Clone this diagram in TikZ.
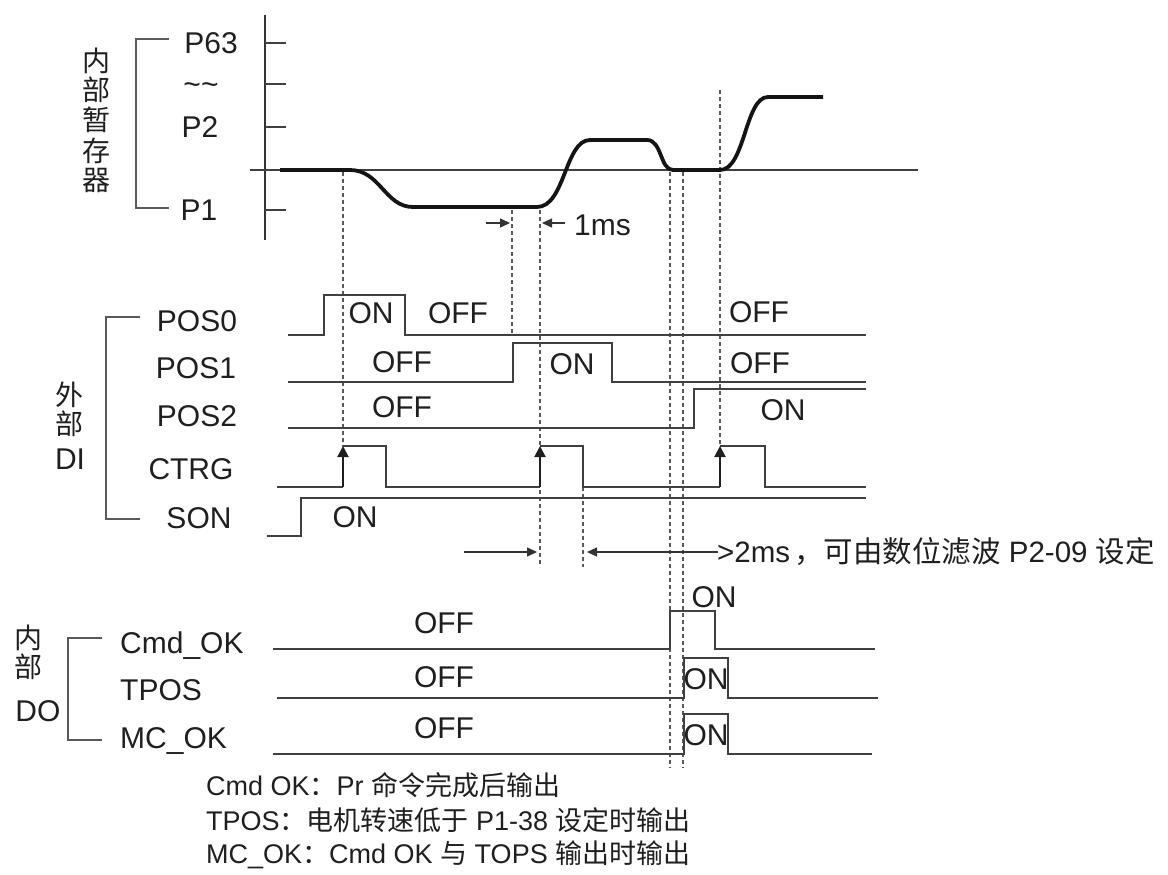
\documentclass[tikz,border=0pt]{standalone}
\usepackage{fontspec}
\setmainfont{Liberation Sans}
\newfontfamily\cjk{Noto Sans CJK SC}
\usetikzlibrary{arrows.meta}
\newcommand\zh[1]{{\cjk #1}}
\begin{document}
\begin{tikzpicture}[x=1pt,y=-1pt,
  sig/.style={line width=2pt,draw=black!75,line join=miter},
  wave/.style={line width=3.8pt,draw=black!92},
  dsh/.style={line width=1.1pt,draw=black!65,dash pattern=on 4pt off 3pt},
  brk/.style={line width=1.8pt,draw=black!65},
  axis/.style={line width=2.6pt,draw=black!80},
  lbl/.style={font=\fontsize{30}{32}\selectfont,text=black!88,inner sep=0pt,text height=21.5pt,text depth=0pt},
  txt/.style={font=\fontsize{27}{30}\selectfont,text=black!88,inner sep=0pt,anchor=west},
  zhl/.style={font=\cjk\fontsize{28}{30}\selectfont,text=black!88,inner sep=0pt},
  uparr/.style={line width=2pt,draw=black!88,-{Triangle[length=11pt,width=11pt]}},
  harr/.style={line width=1.3pt,draw=black!80,-{Triangle[length=10pt,width=9pt]}}
]
\useasboundingbox (0,0) rectangle (1168,875);

% ---------- top plot ----------
\draw[axis] (265,15) -- (265,240);
\draw[sig] (250,170) -- (918,170);
\foreach \yy in {43,84,127,210} \draw[sig] (265,\yy) -- (286,\yy);
\node[lbl] (p63) at (211,43) {P63};
\node[lbl] (tld) at (201,84) {\textasciitilde\textasciitilde};
\node[lbl] (p2) at (200,127) {P2};
\node[lbl] (p1) at (199,210) {P1};
\draw[brk] (169,39) -- (136,39) -- (136,208) -- (169,208);
\foreach \c/\yy [count=\i] in {内/61,部/90,暂/120,存/151,器/180}
  \node[zhl] (reg\i) at (96,\yy) {\c};

% dashed guides
\draw[dsh] (343,172) -- (343,447);
\draw[dsh] (512,210) -- (512,335);
\draw[dsh] (540,210) -- (540,567);
\draw[dsh] (583,487) -- (583,567);
\draw[dsh] (670,172) -- (670,768);
\draw[dsh] (683,172) -- (683,768);
\draw[dsh] (720,90) -- (720,447);

% position waveform
\draw[wave] (280,170) -- (350,170) .. controls (380,170) and (385,207) .. (413,207)
  -- (537,207) .. controls (565,207) and (565,140) .. (590,140)
  -- (647,140) .. controls (662,140) and (660,170) .. (673,170)
  -- (720,170) .. controls (745,170) and (745,97) .. (768,97) -- (823,97);

% 1ms
\draw[harr] (486,223) -- (510,223);
\draw[harr] (565,223) -- (542,223);
\node[lbl,anchor=west] (ms1) at (574,225) {1ms};

% ---------- external DI ----------
\draw[brk] (140,317) -- (106,317) -- (106,519) -- (140,519);
\node[zhl] (di1) at (69,395) {外};
\node[zhl] (di2) at (69,424) {部};
\node[lbl] (di3) at (70,459) {DI};
\node[lbl] (pos0) at (197,321) {POS0};
\node[lbl] (pos1) at (196,368) {POS1};
\node[lbl] (pos2) at (197,416) {POS2};
\node[lbl] (ctrg) at (191,469) {CTRG};
\node[lbl] (son) at (199,518) {SON};

\draw[sig] (288,335) -- (324,335) -- (324,295) -- (405,295) -- (405,335) -- (866,335);
\draw[sig] (288,382) -- (513,382) -- (513,343) -- (612,343) -- (612,382) -- (866,382);
\draw[sig] (288,428) -- (694,428) -- (694,389) -- (866,389);
\draw[sig] (277,487) -- (343,487);
\draw[sig] (343,446) -- (386,446) -- (386,487) -- (540,487);
\draw[sig] (540,446) -- (583,446) -- (583,487) -- (720,487);
\draw[sig] (720,446) -- (765,446) -- (765,487) -- (866,487);
\draw[uparr] (343,487) -- (343,446);
\draw[uparr] (540,487) -- (540,446);
\draw[uparr] (720,487) -- (720,446);
\draw[sig] (267,536) -- (301,536) -- (301,498) -- (866,498);

\node[lbl] (on0) at (371,313) {ON};
\node[lbl] (off0a) at (458,313) {OFF};
\node[lbl] (off0b) at (759,312) {OFF};
\node[lbl] (off1a) at (402,362) {OFF};
\node[lbl] (on1) at (572,364) {ON};
\node[lbl] (off1b) at (760,363) {OFF};
\node[lbl] (off2) at (402,407) {OFF};
\node[lbl] (on2) at (783,410) {ON};
\node[lbl] (onson) at (355,517) {ON};

% >2ms
\draw[harr] (464,552) -- (537,552);
\draw[harr] (718,552) -- (587,552);
\node[txt,font=\fontsize{29.5}{32}\selectfont] (ms2) at (717,552) {>2ms\hspace{4pt}\zh{，可由数位滤波} P2-09 \zh{设定}};

% ---------- internal DO ----------
\draw[brk] (102,638) -- (68,638) -- (68,740) -- (102,740);
\node[zhl] (do1) at (28,638) {内};
\node[zhl] (do2) at (28,667) {部};
\node[lbl] (do3) at (38,711) {DO};
\node[lbl,anchor=west] (cmdok) at (120,643) {Cmd\_OK};
\node[lbl,anchor=west] (tpos) at (120,690) {TPOS};
\node[lbl,anchor=west] (mcok) at (120,738) {MC\_OK};

\draw[sig] (273,649) -- (670,649) -- (670,611) -- (715,611) -- (715,649) -- (875,649);
\draw[sig] (277,698) -- (684,698) -- (684,658) -- (728,658) -- (728,698) -- (878,698);
\draw[sig] (273,754) -- (684,754) -- (684,714) -- (728,714) -- (728,754) -- (872,754);

\node[lbl] (offc) at (444,623) {OFF};
\node[lbl] (onc) at (714,597) {ON};
\node[lbl] (offt) at (444,677) {OFF};
\node[lbl] (ont) at (706,679) {ON};
\node[lbl] (offm) at (444,728) {OFF};
\node[lbl] (onm) at (706,735) {ON};

% notes
\node[txt] (n1) at (206,785) {Cmd OK\zh{：}Pr \zh{命令完成后输出}};
\node[txt] (n2) at (206,820) {TPOS\zh{：电机转速低于} P1-38 \zh{设定时输出}};
\node[txt] (n3) at (206,855) {MC\_OK\zh{：}Cmd OK \zh{与} TOPS \zh{输出时输出}};
\end{tikzpicture}
\end{document}
